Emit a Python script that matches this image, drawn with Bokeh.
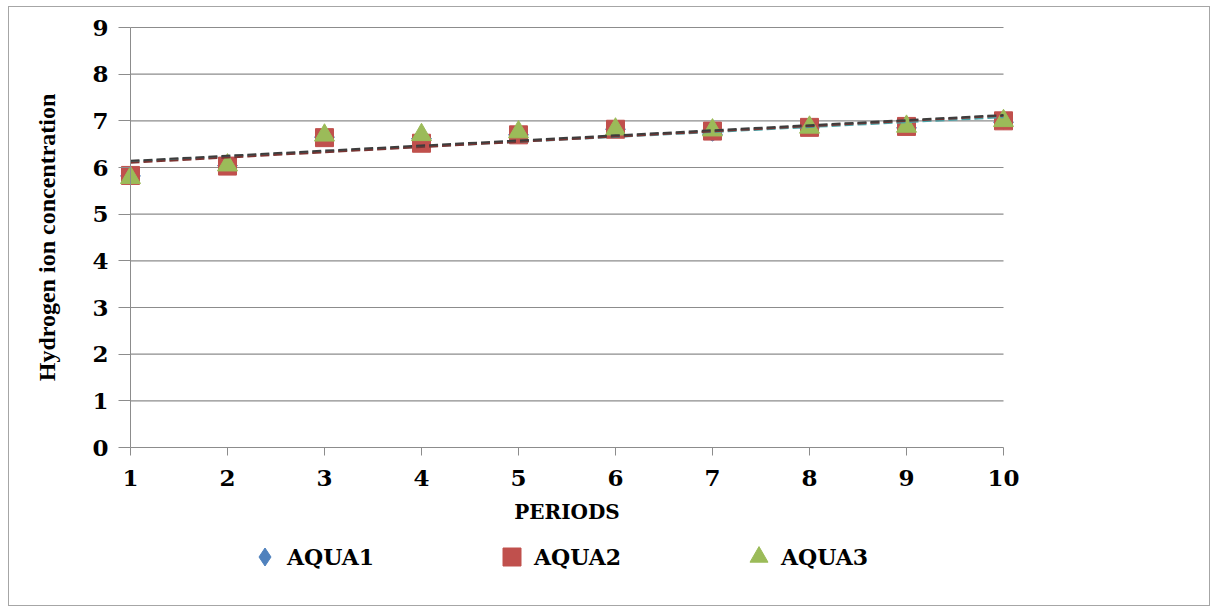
import numpy as np
from bokeh.plotting import figure
from bokeh.models import Range1d, FixedTicker, Legend, LegendItem
from bokeh.embed import file_html
from bokeh.resources import INLINE

periods = [1, 2, 3, 4, 5, 6, 7, 8, 9, 10]
aqua1 = [5.82, 6.04, 6.65, 6.62, 6.70, 6.82, 6.71, 6.85, 6.85, 6.97]
aqua2 = [5.83, 6.03, 6.64, 6.52, 6.70, 6.82, 6.78, 6.86, 6.88, 7.00]
aqua3 = [5.78, 6.05, 6.69, 6.70, 6.76, 6.82, 6.80, 6.86, 6.88, 7.00]
y_ticks = [0, 1, 2, 3, 4, 5, 6, 7, 8, 9]
series_names = ["AQUA1", "AQUA2", "AQUA3"]

SERIF = "DejaVu Serif"
GRID = "#8c8c8c"

# the frame covers the whole bordered box; axes are pinned at x=1 and y=0
p = figure(frame_width=1200, frame_height=598,
           x_range=Range1d(-0.2474, 12.1237), y_range=Range1d(-3.3857, 9.4286),
           output_backend="svg", toolbar_location=None,
           min_border_left=0, min_border_right=0,
           min_border_top=0, min_border_bottom=0,
           x_axis_label="PERIODS", y_axis_label="Hydrogen ion concentration")
p.outline_line_color = None
p.xgrid.visible = False
p.ygrid.visible = False
p.background_fill_color = "white"
p.border_fill_color = "white"
p.styles = {"border": "1px solid #a6a6a6", "margin-left": "8px", "margin-top": "6px"}

# horizontal gridlines limited to the period span
gl = y_ticks[1:]
p.segment(x0=[periods[0]] * len(gl), x1=[periods[-1]] * len(gl), y0=gl, y1=gl,
          line_color=GRID, line_width=1.2)

# axes
xa = p.xaxis[0]
xa.fixed_location = y_ticks[0]
xa.ticker = FixedTicker(ticks=periods)
xa.bounds = (periods[0], periods[-1])
xa.axis_line_color = GRID
xa.major_tick_line_color = GRID
xa.major_tick_out = 8
xa.major_tick_in = 0
xa.minor_tick_line_color = None
xa.major_label_standoff = 14
xa.major_label_text_font = SERIF
xa.major_label_text_font_style = "bold"
xa.major_label_text_font_size = "23px"
xa.major_label_text_color = "black"
xa.axis_label_text_font = SERIF
xa.axis_label_text_font_style = "bold"
xa.axis_label_text_font_size = "20px"
xa.axis_label_text_color = "black"
xa.axis_label_standoff = 11

ya = p.yaxis[0]
ya.fixed_location = periods[0]
ya.ticker = FixedTicker(ticks=y_ticks)
ya.bounds = (y_ticks[0], y_ticks[-1])
ya.axis_line_color = GRID
ya.major_tick_line_color = GRID
ya.major_tick_out = 12
ya.major_tick_in = 0
ya.minor_tick_line_color = None
ya.major_label_standoff = 10
ya.major_label_text_font = SERIF
ya.major_label_text_font_style = "bold"
ya.major_label_text_font_size = "23px"
ya.major_label_text_color = "black"
ya.axis_label_text_font = "Liberation Serif"
ya.axis_label_text_font_style = "bold"
ya.axis_label_text_font_size = "24px"
ya.axis_label_text_color = "black"
ya.axis_label_standoff = 29

# markers
r1 = p.scatter(periods, aqua1, marker="diamond", size=20, angle=np.pi / 2,
               fill_color="#4F81BD", line_color="#4F81BD")
r2 = p.scatter(periods, aqua2, marker="square", size=18,
               fill_color="#C0504D", line_color="#C0504D")
r3 = p.scatter(periods, aqua3, marker="triangle", size=20,
               fill_color="#9BBB59", line_color="#9BBB59")

# linear trend lines (overlapping dashed fits, appearing dark/teal)
xs = np.array(periods, dtype=float)
trend_cols = ["#4aa3a8", "#7a3432", "#3d3d3d"]
for data, col in zip([aqua1, aqua2, aqua3], trend_cols):
    m, b = np.polyfit(xs, np.array(data), 1)
    p.line(xs, m * xs + b, line_color=col, line_width=2, line_dash="9 4")

legend = Legend(items=[LegendItem(label=n, renderers=[r]) for n, r in zip(series_names, [r1, r2, r3])],
                orientation="horizontal", location=(233, 26),
                glyph_width=45, glyph_height=45, label_width=190, label_height=45,
                label_standoff=0, spacing=12, padding=0, margin=0,
                border_line_color=None, background_fill_alpha=0,
                label_text_font=SERIF, label_text_font_style="bold",
                label_text_font_size="22px", label_text_color="black")
p.add_layout(legend, "center")

open("out.html", "w").write(file_html(p, INLINE))
